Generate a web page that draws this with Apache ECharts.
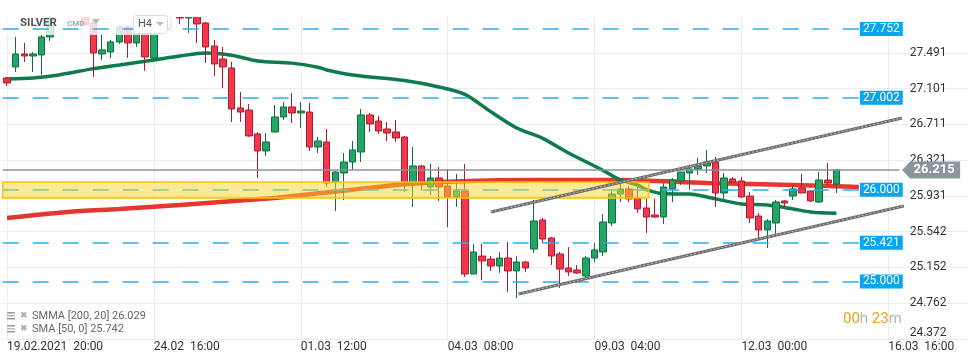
<!DOCTYPE html>
<html><head><meta charset="utf-8">
<script src="https://cdn.jsdelivr.net/npm/echarts@6/dist/echarts.min.js"></script>
<style>html,body{margin:0;padding:0;background:#fff}#c{width:970px;height:364px}</style>
</head><body><div id="c"></div>
<script>
// candles: [open, close, low, high], one per H4 bar (index = bar number)
const candles = [
[27.218,27.164,27.131,27.229],[27.338,27.480,27.284,27.665],[27.480,27.458,27.393,27.600],[27.458,27.480,27.284,27.502],
[27.469,27.665,27.251,27.698],[27.665,27.900,27.622,27.950],[27.950,28.050,27.900,28.120],[28.050,28.180,28.000,28.250],
[28.180,28.060,27.980,28.280],[28.060,27.796,27.790,28.100],[27.818,27.491,27.229,27.850],[27.480,27.524,27.415,27.698],
[27.502,27.611,27.436,27.633],[27.611,27.774,27.589,27.796],[27.774,27.600,27.436,27.796],[27.600,27.800,27.556,27.820],
[27.800,27.447,27.295,27.820],[27.436,27.850,27.415,27.870],[27.850,27.960,27.830,28.000],[27.960,27.930,27.890,28.020],
[27.950,27.872,27.807,28.000],[27.872,27.950,27.709,28.000],[27.950,27.807,27.600,28.000],[27.818,27.556,27.382,27.830],
[27.567,27.371,27.240,27.633],[27.425,27.338,27.109,27.556],[27.327,26.880,26.738,27.393],[26.891,26.847,26.738,27.066],
[26.869,26.586,26.575,26.935],[26.608,26.422,26.128,26.629],[26.422,26.520,26.368,26.618],[26.629,26.793,26.629,26.924],
[26.793,26.902,26.760,26.957],[26.902,26.837,26.727,27.055],[26.837,26.858,26.673,26.957],[26.847,26.466,26.422,26.946],
[26.466,26.531,26.400,26.575],[26.520,26.073,26.030,26.662],[26.084,26.193,25.768,26.204],[26.182,26.302,25.888,26.400],
[26.302,26.433,26.215,26.531],[26.411,26.815,26.302,26.880],[26.815,26.717,26.629,26.837],[26.749,26.640,26.608,26.804],
[26.662,26.618,26.531,26.738],[26.629,26.564,26.520,26.760],[26.575,26.084,25.975,26.586],[26.084,26.259,25.812,26.466],
[26.259,26.073,25.990,26.270],[26.030,26.128,25.942,26.280],[26.128,26.030,25.877,26.248],[26.040,25.921,25.593,26.226],
[25.921,25.986,25.812,26.171],[25.986,25.081,25.048,26.280],[25.081,25.321,25.081,25.408],[25.277,25.223,25.015,25.408],
[25.244,25.168,25.114,25.277],[25.168,25.255,25.092,25.321],[25.255,25.114,24.885,25.430],[25.114,25.212,24.819,25.277],
[25.212,25.146,25.103,25.220],[25.353,25.659,25.310,25.888],[25.670,25.462,25.419,25.692],[25.473,25.277,25.179,25.484],
[25.299,25.135,24.928,25.321],[25.146,25.103,25.059,25.375],[25.125,25.092,25.081,25.179],[25.059,25.255,25.037,25.277],
[25.255,25.343,25.212,25.419],[25.321,25.648,25.277,25.735],[25.637,25.953,25.604,26.008],[25.953,26.008,25.866,26.062],
[26.008,25.899,25.866,26.040],[25.910,25.790,25.746,26.030],[25.801,25.702,25.528,25.899],[25.724,25.702,25.692,25.899],
[25.702,26.030,25.626,26.073],[26.008,26.106,25.866,26.128],[26.095,26.193,26.051,26.193],[26.182,26.226,25.997,26.270],
[26.226,26.259,26.160,26.346],[26.259,26.302,26.182,26.433],[26.302,25.964,25.812,26.357],[25.964,26.128,25.899,26.182],
[26.117,26.084,26.073,26.139],[26.095,25.921,25.910,26.139],[25.931,25.692,25.637,25.975],[25.713,25.561,25.452,25.746],
[25.561,25.659,25.364,25.681],[25.637,25.866,25.506,25.888],[25.877,25.855,25.812,25.888],[25.931,26.008,25.888,26.051],
[26.019,25.964,25.964,26.171],[25.986,25.877,25.866,25.986],[25.866,26.106,25.855,26.193],[26.106,26.073,26.051,26.291],
[26.062,26.215,25.964,26.226]
];
// SMA(50) read at bar positions [bar, value]
const smaPoints = [[0,27.207],[3,27.218],[6,27.251],[10,27.32],[13,27.36],[17,27.415],[20,27.458],[23,27.49],[26,27.465],
[29,27.404],[33,27.38],[36,27.335],[37,27.306],[40,27.251],[46,27.19],[50,27.12],[53,27.04],[56,26.85],[59,26.673],
[62,26.56],[65,26.40],[69,26.21],[71,26.106],[73,26.05],[74,26.0],[76,25.955],[79,25.953],[81,25.92],[85,25.844],
[88,25.833],[91,25.79],[93,25.757],[96,25.742]];
// SMMA(200, 20) read at bar positions [bar, value]
const smmaPoints = [[0,25.692],[7,25.757],[13,25.79],[20,25.833],[31,25.91],[35,25.95],[40,26.0],[46,26.06],[52,26.09],
[61,26.106],[71,26.106],[81,26.073],[91,26.051],[98.6,26.029]];
const levels = [27.752, 27.002, 26.000, 25.421, 25.000];
const currentPrice = 26.215;
const zoneLow = 25.910, zoneHigh = 26.084, zoneEndBar = 74.3;
const channelUpper = [[56.0,25.757],[103.6,26.782]];
const channelLower = [[59.2,24.863],[103.8,25.822]];
const yTickLabels = ['24.372','24.762','25.152','25.542','25.931','26.321','26.711','27.101','27.491'];
const xTickIdx = [0,17,34,51,68,85,102];
const xTickLabels = ['19.02.2021  20:00','24.02  16:00','01.03  12:00','04.03  08:00','09.03  04:00','12.03  00:00','16.03  16:00'];
const legendTexts = ['SMMA [200, 20] 26.029','SMA [50, 0] 25.742'];

const yTicks = yTickLabels.map(Number);
const FONT = 'Roboto, "Noto Sans", sans-serif';
const chart = echarts.init(document.getElementById('c'));

const levelLines = [];
levels.forEach(v => {
  levelLines.push([{coord:[-0.5, v], value: v, label:{show:false}}, {coord:[97, v], value: v}]);
  levelLines.push([{coord:[97, v], value: v, lineStyle:{type:'solid'}}, {coord:[98.6, v], value: v}]);
});

function channelSeries(pts){
  return [
    {type:'line', data: pts, symbol:'none', z:6, silent:true, lineStyle:{color:'#6c6c6c', width:3.2}},
    {type:'line', data: pts, symbol:'none', z:6, silent:true, lineStyle:{color:'#c4c4c4', width:1, type:[2,2]}}
  ];
}

const option = {
  animation: false,
  grid: {left: 2.68, right: 1.4, top: 17, bottom: 25, outerBoundsMode: 'none', containLabel: false},
  xAxis: {
    type: 'value', min: -0.5, max: 111.3,
    axisLine: {show: false}, axisTick: {show: false, customValues: xTickIdx},
    splitLine: {show: true, lineStyle: {color: '#ececec', width: 1}},
    axisLabel: {customValues: xTickIdx, align: 'left', color: '#333', fontSize: 12, fontFamily: FONT, margin: 2,
      formatter: v => { const i = xTickIdx.indexOf(Math.round(v)); return i >= 0 ? xTickLabels[i] : ''; }}
  },
  yAxis: {
    type: 'value', position: 'right', min: 24.372, max: 27.883,
    axisLine: {show: false}, axisTick: {show: false, customValues: yTicks},
    splitLine: {show: true, lineStyle: {color: '#ececec', width: 1}},
    axisLabel: {inside: true, customValues: yTicks, color: '#333', fontSize: 12, fontFamily: FONT, margin: 22,
      verticalAlignMinLabel: 'bottom',
      formatter: v => { let b = 0; yTicks.forEach((t, i) => { if (Math.abs(t - v) < Math.abs(yTicks[b] - v)) b = i; }); return yTickLabels[b]; }}
  },
  series: [
    {type: 'candlestick', z: 2, clip: true, barWidth: 7,
      data: candles.map((c, i) => [i, c[0], c[1], c[2], c[3]]),
      itemStyle: {color: '#23a566', color0: '#f2364b', borderColor: '#0f6e42', borderColor0: '#b01a2c', borderWidth: 1}},
    {type: 'line', data: smmaPoints, symbol: 'none', smooth: 0.3, z: 2, silent: true,
      lineStyle: {color: '#e5362f', width: 4.5}},
    {type: 'line', data: smaPoints, symbol: 'none', smooth: 0.3, z: 2, silent: true,
      lineStyle: {color: '#0e7b4c', width: 3.5}},
    {type: 'line', data: [], silent: true,
      markLine: {z: 4, silent: true, symbol: ['none', 'none'], animation: false,
        lineStyle: {color: '#27aef0', width: 1.5, type: [16, 14]},
        label: {show: true, position: 'end', distance: 1, color: '#fff', backgroundColor: '#05a6ef',
          padding: [1, 3, 1, 3], fontSize: 12, fontFamily: FONT, formatter: p => Number(p.value).toFixed(3)},
        data: levelLines},
      markArea: {z: 5, silent: true,
        itemStyle: {color: 'rgba(250,214,45,0.5)', borderColor: '#f5c400', borderWidth: 1.5},
        data: [[{coord: [-0.5, zoneHigh]}, {coord: [zoneEndBar, zoneLow]}]]}
    },
    ...channelSeries(channelUpper),
    ...channelSeries(channelLower),
    {type: 'line', data: [], silent: true,
      markLine: {z: 6, silent: true, symbol: ['none', 'none'], animation: false,
        lineStyle: {color: '#8a959b', width: 1.5, type: 'solid'}, label: {show: false},
        data: [[{coord: [-0.5, currentPrice]}, {coord: [103.3, currentPrice]}]]},
      markPoint: {z: 7, silent: true, animation: false,
        symbol: 'path://M0,8.5L8,0L58,0L58,17L8,17Z', symbolSize: [58, 17], symbolKeepAspect: false,
        itemStyle: {color: '#8b969c'},
        label: {show: true, position: 'inside', color: '#fff', fontWeight: 'bold', fontSize: 13, fontFamily: FONT,
          offset: [3, 0], formatter: () => currentPrice.toFixed(3)},
        data: [{coord: [106.96, currentPrice], value: currentPrice}]}
    }
  ],
  graphic: [
    // plot area starts at y=17: mask anything drawn above it
    {type: 'rect', z: 3, silent: true, shape: {x: 0, y: 0, width: 970, height: 17}, style: {fill: '#fff'}},
    {type: 'rect', z: 3, silent: true, shape: {x: 0, y: 17, width: 172, height: 18}, style: {fill: 'rgba(255,255,255,0.8)'}},
    {type: 'text', z: 8, x: 20, y: 23, style: {text: 'SILVER', fontSize: 11.5, fontWeight: 'bold', fontFamily: FONT, fill: '#555', verticalAlign: 'middle'}},
    {type: 'text', z: 8, x: 67, y: 24, style: {text: 'CMD', fontSize: 8, fontWeight: 'bold', fontFamily: FONT, fill: '#a3abb0', verticalAlign: 'middle'}},
    {type: 'polygon', z: 8, shape: {points: [[92, 19], [100, 19], [96, 24]]}, style: {fill: '#b8b8b8'}},
    {type: 'rect', z: 8, shape: {x: 133.5, y: 15.5, width: 34, height: 18, r: 3}, style: {fill: '#fff', stroke: '#dcdcdc', lineWidth: 1}},
    {type: 'text', z: 9, x: 138, y: 24.5, style: {text: 'H4', fontSize: 11, fontFamily: FONT, fill: '#555', verticalAlign: 'middle'}},
    {type: 'polygon', z: 9, shape: {points: [[156, 22], [164, 22], [160, 26]]}, style: {fill: '#b8b8b8'}},
    {type: 'line', z: 8, shape: {x1: 171, y1: 17, x2: 171, y2: 31}, style: {stroke: '#dcdcdc', lineWidth: 1}},
    // legend icons
    {type: 'rect', z: 8, shape: {x: 7, y: 312, width: 8, height: 1.5}, style: {fill: '#999'}},
    {type: 'rect', z: 8, shape: {x: 7, y: 315, width: 8, height: 1.5}, style: {fill: '#bbb'}},
    {type: 'rect', z: 8, shape: {x: 7, y: 318, width: 8, height: 1.5}, style: {fill: '#999'}},
    {type: 'text', z: 8, x: 20, y: 316, style: {text: '✖', fontSize: 9, fill: '#aaa', verticalAlign: 'middle'}},
    {type: 'text', z: 8, x: 32, y: 316.5, style: {text: legendTexts[0], fontSize: 11, fontFamily: FONT, fill: '#666', verticalAlign: 'middle'}},
    {type: 'rect', z: 8, shape: {x: 7, y: 325, width: 8, height: 1.5}, style: {fill: '#999'}},
    {type: 'rect', z: 8, shape: {x: 7, y: 328, width: 8, height: 1.5}, style: {fill: '#bbb'}},
    {type: 'rect', z: 8, shape: {x: 7, y: 331, width: 8, height: 1.5}, style: {fill: '#999'}},
    {type: 'text', z: 8, x: 20, y: 329, style: {text: '✖', fontSize: 9, fill: '#aaa', verticalAlign: 'middle'}},
    {type: 'text', z: 8, x: 32, y: 329.5, style: {text: legendTexts[1], fontSize: 11, fontFamily: FONT, fill: '#666', verticalAlign: 'middle'}},
    // countdown
    {type: 'text', z: 8, x: 843, y: 319, style: {text: '{o|00}{g|h} {o|23}{g|m}', fontSize: 15, fontFamily: FONT, verticalAlign: 'middle',
      rich: {o: {fill: '#f5a01a', fontSize: 15, fontFamily: FONT}, g: {fill: '#b5b5b5', fontSize: 15, fontFamily: FONT}}}}
  ]
};
chart.setOption(option);
</script>
</body></html>
